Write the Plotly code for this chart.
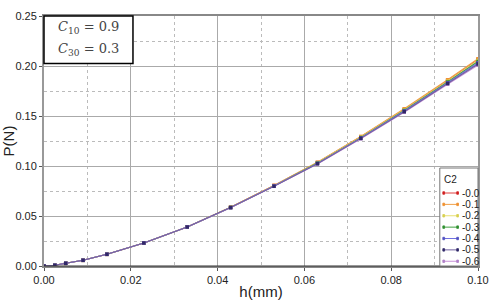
import plotly.graph_objects as go

h = [0, 0.0025, 0.005, 0.009, 0.0145, 0.023, 0.033, 0.043, 0.053, 0.063, 0.073, 0.083, 0.093, 0.1]

p_00 = [0, 0.0007, 0.0027, 0.0057, 0.0117, 0.023, 0.039, 0.0587, 0.0805, 0.1035, 0.1292, 0.1565, 0.1855, 0.2065]
p_01 = [0, 0.0007, 0.0027, 0.0057, 0.0117, 0.023, 0.039, 0.0588, 0.0806, 0.1037, 0.1296, 0.1572, 0.1862, 0.2072]
p_02 = [0, 0.0007, 0.0027, 0.0057, 0.0117, 0.023, 0.039, 0.0586, 0.0803, 0.1032, 0.1288, 0.1560, 0.1848, 0.2055]
p_03 = [0, 0.0007, 0.0027, 0.0057, 0.0117, 0.023, 0.039, 0.0585, 0.0801, 0.1029, 0.1284, 0.1555, 0.1840, 0.2045]
p_04 = [0, 0.0007, 0.0027, 0.0057, 0.0117, 0.023, 0.039, 0.0585, 0.0800, 0.1026, 0.1280, 0.1550, 0.1832, 0.2032]
p_05 = [0, 0.0007, 0.0027, 0.0057, 0.0117, 0.023, 0.039, 0.0584, 0.0798, 0.1023, 0.1276, 0.1543, 0.1825, 0.2020]
p_06 = [0, 0.0007, 0.0027, 0.0057, 0.0117, 0.023, 0.039, 0.0583, 0.0797, 0.1020, 0.1272, 0.1538, 0.1818, 0.2008]

series_names = ["-0.0", "-0.1", "-0.2", "-0.3", "-0.4", "-0.5", "-0.6"]
series_vals = [p_00, p_01, p_02, p_03, p_04, p_05, p_06]
line_colors = ["#e04040", "#f0a048", "#e8e070", "#40a040", "#7070e0", "#7060a0", "#c890d8"]
marker_colors = ["#d02020", "#f09030", "#d8d050", "#309030", "#5050c0", "#302868", "#b080c8"]
draw_order = [0, 1, 2, 3, 4, 6, 5]

x_ticks = [0.00, 0.02, 0.04, 0.06, 0.08, 0.10]
y_ticks = [0.00, 0.05, 0.10, 0.15, 0.20, 0.25]

fig = go.Figure()
for i in draw_order:
    fig.add_trace(go.Scatter(
        x=h, y=series_vals[i], name=series_names[i], mode="lines+markers",
        line=dict(color=line_colors[i], width=1.1),
        marker=dict(color=marker_colors[i], size=3.5, symbol="square"),
        showlegend=False,
    ))

font_family = "Liberation Sans, Arial, sans-serif"
fig.update_layout(
    width=504, height=302,
    margin=dict(l=44, r=26, t=16, b=36),
    paper_bgcolor="white", plot_bgcolor="white",
    font=dict(family=font_family, size=11, color="#222"),
    showlegend=False,
    xaxis=dict(
        range=[0, 0.1], tickvals=x_ticks, tickformat=".2f", automargin=False,
        showgrid=True, gridcolor="#aaaaaa", gridwidth=1,
        minor=dict(dtick=0.01, showgrid=True, gridcolor="#bbbbbb", griddash="dot", ticks=""),
        showline=True, linecolor="#888", linewidth=1.5, mirror=True,
        ticks="outside", ticklen=3, tickcolor="#555",
        title=dict(text="h(mm)", font=dict(size=15), standoff=2),
        zeroline=False, tickfont=dict(size=11),
    ),
    yaxis=dict(
        range=[0, 0.25], tickvals=y_ticks, tickformat=".2f", automargin=False,
        showgrid=True, gridcolor="#aaaaaa", gridwidth=1,
        minor=dict(dtick=0.025, showgrid=True, gridcolor="#bbbbbb", griddash="dot", ticks=""),
        showline=True, linecolor="#999", linewidth=2, mirror=True,
        ticks="outside", ticklen=3, tickcolor="#555",
        title=dict(text="P(N)", font=dict(size=15), standoff=4),
        zeroline=False, tickfont=dict(size=11),
    ),
)

# bottom axis line darker
fig.add_shape(type="line", xref="paper", yref="paper", x0=0, x1=1, y0=0, y1=0,
              line=dict(color="#333", width=1.2), layer="above")

# parameter box
fig.add_shape(type="rect", xref="paper", yref="paper", x0=0, x1=0.205, y0=0.81, y1=1.0,
              line=dict(color="black", width=1.5), fillcolor="white", layer="above")
param_lines = ["<i>C</i><sub>10</sub> = 0.9", "<i>C</i><sub>30</sub> = 0.3"]
param_y = [0.955, 0.865]
for txt, yy in zip(param_lines, param_y):
    fig.add_annotation(xref="paper", yref="paper", x=0.1025, y=yy, xanchor="center", yanchor="middle",
                       text=txt, showarrow=False,
                       font=dict(family="DejaVu Serif, serif", size=13, color="#444"))

# compact legend box
lx0, lx1 = 0.912, 1.0
ly0, ly1 = 0.0, 0.392
fig.add_shape(type="rect", xref="paper", yref="paper", x0=lx0, x1=lx1, y0=ly0, y1=ly1,
              line=dict(color="#777", width=1), fillcolor="white", layer="above")
fig.add_annotation(xref="paper", yref="paper", x=(lx0 + lx1) / 2, y=ly1 - 0.045,
                   text="C2", showarrow=False, font=dict(size=10, color="#222"))
step = 0.0455
for i, (name, lc, mc) in enumerate(zip(series_names, line_colors, marker_colors)):
    yy = ly1 - 0.1 - i * step
    fig.add_shape(type="line", xref="paper", yref="paper", x0=lx0 + 0.007, x1=lx0 + 0.043, y0=yy, y1=yy,
                  line=dict(color=lc, width=1), layer="above")
    for xm in (lx0 + 0.009, lx0 + 0.041):
        fig.add_shape(type="rect", xref="paper", yref="paper", x0=xm - 0.002, x1=xm + 0.002,
                      y0=yy - 0.005, y1=yy + 0.005, line=dict(color=mc, width=0.8), fillcolor=mc,
                      layer="above")
    fig.add_annotation(xref="paper", yref="paper", x=lx0 + 0.046, y=yy, xanchor="left", yanchor="middle",
                       text=name, showarrow=False, font=dict(size=10, color="#222"))

fig.write_html("out.html")
